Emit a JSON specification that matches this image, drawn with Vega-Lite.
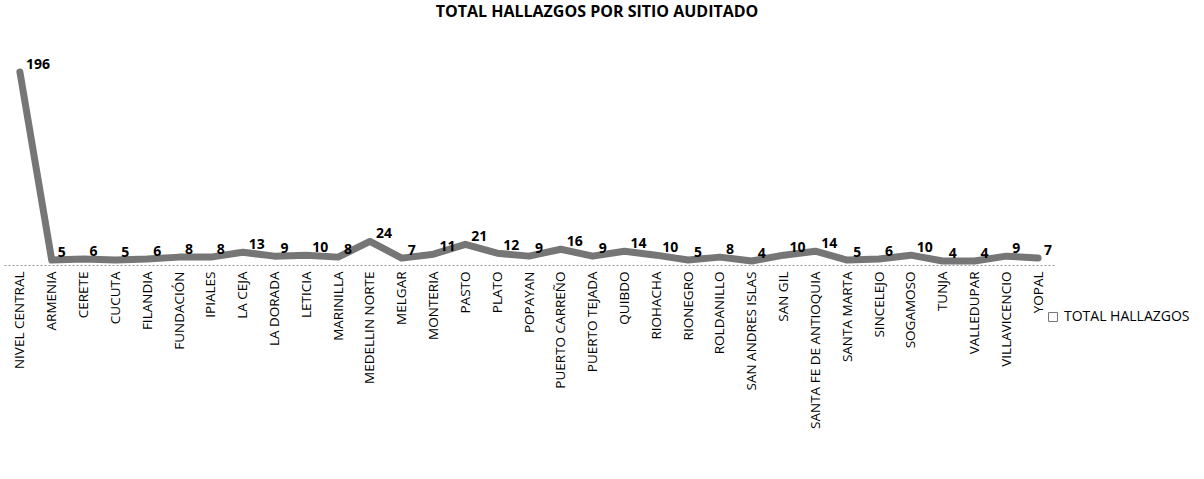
{
  "$schema": "https://vega.github.io/schema/vega-lite/v6.json",
  "autosize": "none",
  "width": 1050,
  "height": 193,
  "padding": {"left": 4, "top": 72, "right": 150, "bottom": 214},
  "background": "white",
  "title": {"text": "TOTAL HALLAZGOS POR SITIO AUDITADO", "anchor": "middle", "dx": 68, "offset": 38, "font": "Open Sans", "fontSize": 16, "fontWeight": "bold", "color": "#000"},
  "config": {"view": {"stroke": null}, "font": "Open Sans"},
  "data": {"values": [
    {"sitio": "NIVEL CENTRAL", "total": 196},
    {"sitio": "ARMENIA", "total": 5},
    {"sitio": "CERETE", "total": 6},
    {"sitio": "CUCUTA", "total": 5},
    {"sitio": "FILANDIA", "total": 6},
    {"sitio": "FUNDACIÓN", "total": 8},
    {"sitio": "IPIALES", "total": 8},
    {"sitio": "LA CEJA", "total": 13},
    {"sitio": "LA DORADA", "total": 9},
    {"sitio": "LETICIA", "total": 10},
    {"sitio": "MARINILLA", "total": 8},
    {"sitio": "MEDELLIN NORTE", "total": 24},
    {"sitio": "MELGAR", "total": 7},
    {"sitio": "MONTERIA", "total": 11},
    {"sitio": "PASTO", "total": 21},
    {"sitio": "PLATO", "total": 12},
    {"sitio": "POPAYAN", "total": 9},
    {"sitio": "PUERTO CARREÑO", "total": 16},
    {"sitio": "PUERTO TEJADA", "total": 9},
    {"sitio": "QUIBDO", "total": 14},
    {"sitio": "RIOHACHA", "total": 10},
    {"sitio": "RIONEGRO", "total": 5},
    {"sitio": "ROLDANILLO", "total": 8},
    {"sitio": "SAN ANDRES ISLAS", "total": 4},
    {"sitio": "SAN GIL", "total": 10},
    {"sitio": "SANTA FE DE ANTIOQUIA", "total": 14},
    {"sitio": "SANTA MARTA", "total": 5},
    {"sitio": "SINCELEJO", "total": 6},
    {"sitio": "SOGAMOSO", "total": 10},
    {"sitio": "TUNJA", "total": 4},
    {"sitio": "VALLEDUPAR", "total": 4},
    {"sitio": "VILLAVICENCIO", "total": 9},
    {"sitio": "YOPAL", "total": 7}
  ]},
  "encoding": {
    "x": {"field": "sitio", "type": "nominal", "sort": null, "scale": {"type": "point", "padding": 0.5},
      "axis": {"title": null, "labelAngle": -90, "labelFont": "Open Sans", "labelFontSize": 13.5, "labelColor": "#000", "ticks": false, "labelPadding": 6, "domainColor": "#999", "domainDash": [2, 2], "labelOverlap": false}},
    "y": {"field": "total", "type": "quantitative", "scale": {"domain": [0, 196], "nice": false}, "axis": null}
  },
  "layer": [
    {"mark": {"type": "line", "strokeWidth": 7, "strokeJoin": "round", "strokeCap": "round"},
     "encoding": {"color": {"datum": "TOTAL HALLAZGOS", "type": "nominal", "scale": {"range": ["#767676"]},
       "legend": {"title": null, "orient": "none", "legendX": 1042, "legendY": 238, "symbolType": "square", "symbolSize": 80, "symbolFillColor": "white", "symbolStrokeColor": "#999", "symbolStrokeWidth": 1, "symbolStrokeDash": [2, 2], "labelFont": "Open Sans", "labelFontSize": 14, "labelColor": "#000"}}}},
    {"mark": {"type": "text", "font": "Open Sans", "fontSize": 14, "fontWeight": "bold", "color": "#000", "align": "left", "dx": 6, "dy": -7},
     "encoding": {"text": {"field": "total", "type": "quantitative"}}}
  ]
}
